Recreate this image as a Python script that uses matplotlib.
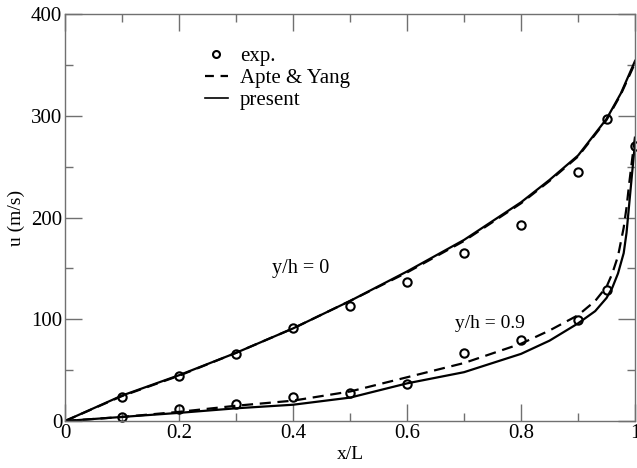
import matplotlib
matplotlib.use("Agg")
import matplotlib.pyplot as plt
from matplotlib.lines import Line2D
from matplotlib.ticker import MultipleLocator

plt.rcParams['font.family'] = ['Liberation Serif', 'DejaVu Serif']

# experimental data
exp_x0 = [0.1, 0.2, 0.3, 0.4, 0.5, 0.6, 0.7, 0.8, 0.9, 0.95]
exp_u0 = [24, 44, 66, 91, 113, 137, 165, 193, 245, 297]
exp_x9 = [0.1, 0.2, 0.3, 0.4, 0.5, 0.6, 0.7, 0.8, 0.9, 0.95, 1.0]
exp_u9 = [4, 11.5, 17, 24, 28, 36, 67, 80, 99, 129, 270]

# y/h = 0 curves
up_x = [0, 0.1, 0.2, 0.3, 0.4, 0.5, 0.6, 0.7, 0.8, 0.85, 0.9, 0.95, 0.975, 1.0]
up_present = [0, 25, 45, 67, 91, 118, 147, 178, 215, 237, 261, 297, 322, 354]
up_apte = [0, 24.5, 44.5, 67, 91, 118, 146, 177, 214, 236, 260, 296, 321, 352]

# y/h = 0.9 curves
lo_x = [0, 0.1, 0.2, 0.3, 0.4, 0.5, 0.6, 0.7, 0.8, 0.85, 0.9, 0.93, 0.95, 0.96,
        0.97, 0.98, 0.985, 0.99, 0.995, 1.0]
lo_present = [0, 4, 8, 12.5, 16, 23, 37, 48, 66, 79, 96, 108, 121, 131,
              145, 165, 185, 215, 245, 274]
lo_apte = [0, 4, 9, 15, 20, 29, 43, 57, 76, 89, 104, 118, 132, 145,
           162, 190, 210, 235, 258, 280]

fig = plt.figure(figsize=(6.37, 4.68), dpi=100)
ax = fig.add_axes([0.102, 0.1004, 0.895, 0.8696])

lw = 1.6
dash = (0, (5, 3))
ax.plot(up_x, up_apte, color='black', lw=lw, linestyle=dash)
ax.plot(up_x, up_present, color='black', lw=lw)
ax.plot(lo_x, lo_apte, color='black', lw=lw, linestyle=dash)
ax.plot(lo_x, lo_present, color='black', lw=lw)
ax.plot(exp_x0, exp_u0, 'o', mfc='none', mec='black', ms=6, mew=1.5)
ax.plot(exp_x9, exp_u9, 'o', mfc='none', mec='black', ms=6, mew=1.5, clip_on=False)

ax.set_xlim(0, 1)
ax.set_ylim(0, 400)
ax.xaxis.set_minor_locator(MultipleLocator(0.1))
ax.yaxis.set_minor_locator(MultipleLocator(50))
ax.set_xticks([0, 0.2, 0.4, 0.6, 0.8, 1.0])
ax.set_xticklabels(['0', '0.2', '0.4', '0.6', '0.8', '1'])
ax.set_yticks([0, 100, 200, 300, 400])
ax.set_yticklabels(['0', '100', '200', '300', '400'])

spine_color = '#707070'
for s in ax.spines.values():
    s.set_color(spine_color)
    s.set_linewidth(1.0)
ax.tick_params(which='both', direction='in', top=True, right=True,
               color=spine_color, width=1.0, labelsize=15, pad=2)
ax.tick_params(which='major', length=12)
ax.tick_params(which='minor', length=6)

ax.set_xlabel('x/L', fontsize=14, labelpad=2)
ax.set_ylabel('u (m/s)', fontsize=14, labelpad=4)

ax.text(0.363, 150, 'y/h = 0', fontsize=14.5, va='center', ha='left')
ax.text(0.684, 96, 'y/h = 0.9', fontsize=14, va='center', ha='left')

handles = [
    Line2D([], [], marker='o', linestyle='none', mfc='none', mec='black', ms=5, mew=1.5),
    Line2D([], [], color='black', lw=lw, linestyle=(0, (4, 3))),
    Line2D([], [], color='black', lw=1.2),
]
ax.legend(handles, ['exp.', 'Apte & Yang', 'present'], loc='upper left',
          bbox_to_anchor=(0.2456, 0.92), frameon=False, fontsize=15,
          handlelength=1.1, handletextpad=0.58, labelspacing=0.12,
          borderpad=0, borderaxespad=0)

fig.savefig('out.png', dpi=100)
